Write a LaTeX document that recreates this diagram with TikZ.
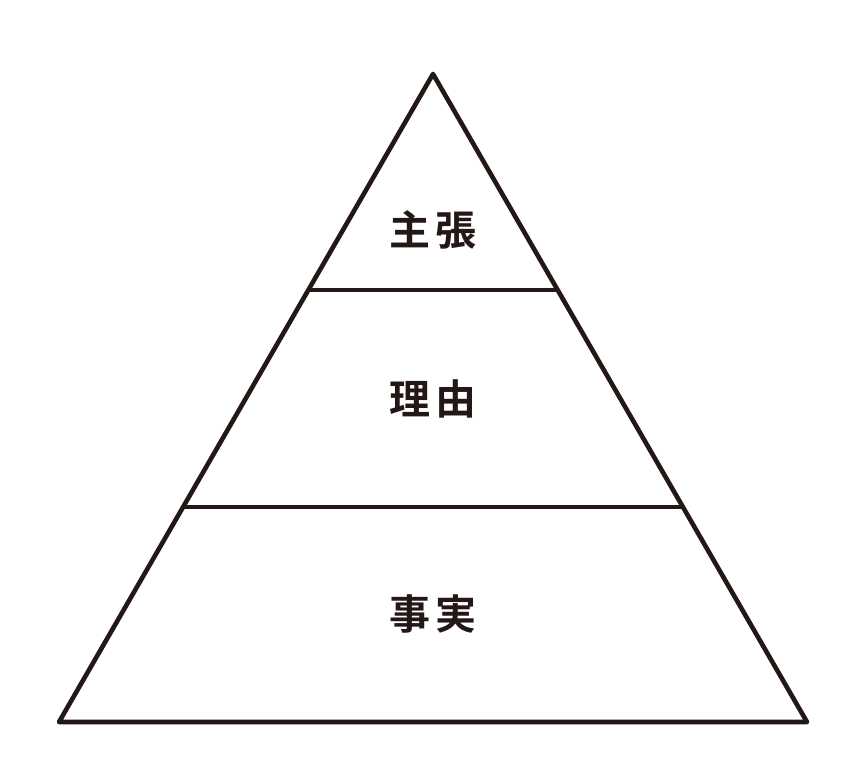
\documentclass[tikz,border=0pt]{standalone}
\usepackage{fontspec}
\newfontfamily\cjk{Noto Sans CJK JP Bold}
\definecolor{ink}{HTML}{231815}
\begin{document}
\begin{tikzpicture}[x=1pt,y=-1pt,
  edge/.style={draw=ink,line width=4.6pt,line join=round},
  label/.style={text=ink,font=\cjk\fontsize{41}{41}\selectfont,inner sep=0pt,anchor=center}]
\useasboundingbox[fill=white] (0,0) rectangle (866,761);
\coordinate (apex) at (433,74);
\coordinate (bl) at (59,722);
\coordinate (br) at (807,722);
\draw[edge] (apex) -- (bl) -- (br) -- cycle;
\coordinate (a1) at (308.5,290);
\coordinate (b1) at (557.5,290);
\coordinate (a2) at (183.7,507);
\coordinate (b2) at (682.0,507);
\draw[edge] (a1) -- (b1);
\draw[edge] (a2) -- (b2);
\node[label] (t1) at (433,229.5) {主\hspace{6pt}張};
\node[label] (t2) at (433,399) {理\hspace{6pt}由};
\node[label] (t3) at (433,614) {事\hspace{6pt}実};
\end{tikzpicture}
\end{document}
